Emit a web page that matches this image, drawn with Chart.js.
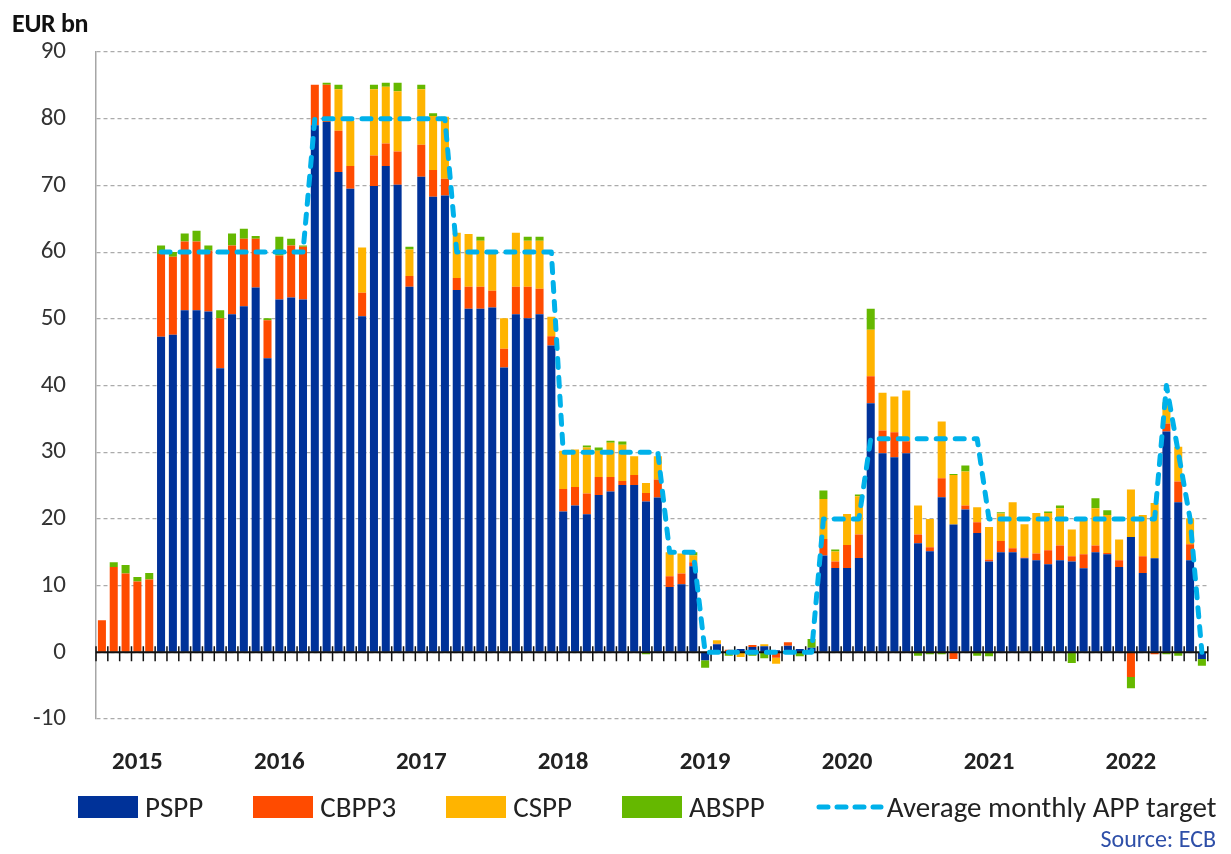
<!DOCTYPE html>
<html>
<head>
<meta charset="utf-8">
<script src="https://cdn.jsdelivr.net/npm/chart.js@4.4.1/dist/chart.umd.min.js"></script>
<style>
    body { margin: 0; background: #fff; font-family: Carlito, Lato, sans-serif; }
    #wrap { position: relative; width: 1231px; height: 854px; overflow: hidden; }
    #unit { position: absolute; left: 12px; top: 7px; font-weight: bold; font-size: 26px; color: #111; letter-spacing: -0.3px; }
    #legend { position: absolute; left: 78px; top: 789px; width: 1200px; display: flex; align-items: center; font-size: 29px; color: #222; white-space: nowrap; }
    .item { display: flex; align-items: center; margin-right: 50px; flex-shrink: 0; }
    .box { width: 60px; height: 22px; margin-right: 7px; }
    #source { position: absolute; right: 15px; top: 824px; font-size: 24px; color: #2e4fa8; }
</style>
</head>
<body>
<div id="wrap">
    <canvas id="chart"></canvas>
    <div id="unit">EUR bn</div>
    <div id="legend"></div>
    <div id="source">Source: ECB</div>
</div>
<script>
const months = [
    '2014-10','2014-11','2014-12',
    '2015-01','2015-02','2015-03','2015-04','2015-05','2015-06','2015-07','2015-08','2015-09','2015-10','2015-11','2015-12',
    '2016-01','2016-02','2016-03','2016-04','2016-05','2016-06','2016-07','2016-08','2016-09','2016-10','2016-11','2016-12',
    '2017-01','2017-02','2017-03','2017-04','2017-05','2017-06','2017-07','2017-08','2017-09','2017-10','2017-11','2017-12',
    '2018-01','2018-02','2018-03','2018-04','2018-05','2018-06','2018-07','2018-08','2018-09','2018-10','2018-11','2018-12',
    '2019-01','2019-02','2019-03','2019-04','2019-05','2019-06','2019-07','2019-08','2019-09','2019-10','2019-11','2019-12',
    '2020-01','2020-02','2020-03','2020-04','2020-05','2020-06','2020-07','2020-08','2020-09','2020-10','2020-11','2020-12',
    '2021-01','2021-02','2021-03','2021-04','2021-05','2021-06','2021-07','2021-08','2021-09','2021-10','2021-11','2021-12',
    '2022-01','2022-02','2022-03','2022-04','2022-05','2022-06','2022-07'
];

const pspp = [
    0, 0, 0,
    0, 0, 47.3, 47.6, 51.3, 51.3, 51.1, 42.6, 50.7, 51.9, 54.7, 44.1,
    52.9, 53.2, 52.9, 79.0, 79.5, 72.0, 69.5, 50.4, 69.9, 72.9, 70.1, 54.8,
    71.3, 68.3, 68.5, 54.3, 51.5, 51.5, 51.7, 42.7, 50.7, 50.1, 50.7, 46.0,
    21.1, 22.0, 20.7, 23.6, 24.1, 25.1, 25.1, 22.6, 23.2, 9.8, 10.2, 12.9,
    -1.2, 1.2, 0.1, 0.5, 0.8, 0.9, 0.3, 1.0, 0.5, 0.7, 14.5, 12.65,
    12.65, 14.15, 37.35, 29.85, 29.25, 29.85, 16.35, 15.15, 23.25, 19.15, 21.4, 17.9,
    13.6, 15.0, 15.0, 14.1, 13.8, 13.2, 13.8, 13.6, 12.6, 15.0, 14.7, 12.8,
    17.3, 11.9, 14.1, 33.1, 22.5, 13.8, -1.0
];
const cbpp3 = [
    4.8, 12.8, 11.8,
    10.6, 10.9, 12.4, 11.7, 10.3, 10.3, 9.1, 7.5, 10.3, 10.1, 7.3, 5.7,
    6.6, 7.8, 7.9, 6.1, 5.6, 6.2, 3.4, 3.5, 4.6, 3.4, 5.0, 1.6,
    4.8, 4.0, 2.5, 1.8, 3.3, 3.3, 2.5, 2.8, 4.1, 4.7, 3.8, 1.4,
    3.4, 2.8, 3.1, 2.7, 2.2, 0.6, 1.5, 1.3, 2.7, 1.6, 1.6, 0.6,
    0, 0.1, 0.3, 0, 0.3, 0, -0.8, 0.5, 0, 0, 2.5, 0.95,
    3.45, 3.5, 4.05, 3.4, 3.75, 1.8, 1.3, 0.6, 2.85, -1.0, 0.6, 1.6,
    0.3, 1.7, 0.6, 0.1, 1.0, 2.1, 2.2, 0.8, 2.1, 1.0, 0.2, 1.0,
    -3.7, 2.5, -0.3, 1.2, 3.1, 2.4, 0
];
const cspp = [
    0, 0, 0,
    0, 0, 0, 0, 0, 0, 0, 0, 0, 0, 0, 0,
    0, 0, 0, 0, 0, 6.2, 6.8, 6.8, 9.9, 8.5, 9.0, 4.0,
    8.3, 8.1, 9.3, 6.8, 7.9, 6.9, 5.7, 4.6, 8.1, 6.9, 7.2, 2.9,
    5.7, 5.6, 6.9, 3.9, 5.1, 5.4, 2.8, 1.5, 3.5, 3.6, 3.0, 1.0,
    0, 0.5, 0, -0.7, 0, 0.3, -0.9, 0, 0, 0, 6.0, 1.5,
    4.65, 5.75, 6.95, 5.65, 5.35, 7.6, 4.35, 4.25, 8.5, 7.45, 5.1, 2.25,
    4.9, 4.1, 6.9, 5.0, 6.1, 5.6, 5.6, 4.0, 5.2, 5.6, 5.7, 3.1,
    7.1, 6.2, 8.3, 3.2, 5.2, 3.9, 0
];
const abspp = [
    0, 0.7, 1.3,
    0.7, 1.0, 1.3, 0.7, 1.2, 1.6, 0.8, 1.2, 1.8, 1.5, 0.4, 0.3,
    2.8, 1.0, 0.2, 0, 0.3, 0.7, 0, 0, 0.7, 0.6, 1.3, 0.4,
    0.7, 0.4, 0, 0, 0, 0.6, 0, 0, 0, 0.6, 0.6, 0,
    0, 0, 0.3, 0.5, 0.3, 0.5, 0, -0.3, 0, 0, 0, 0.5,
    -1.1, 0, -0.5, 0, -0.5, -0.9, 0, 0, -0.6, 1.3, 1.25, 0.3,
    0, 0.25, 3.15, 0, 0, 0, -0.5, -0.3, -0.3, 0.15, 0.9, -0.5,
    -0.6, 0.2, 0, 0, 0, 0.2, 0.4, -1.6, 0, 1.5, 0.7, 0,
    -1.7, 0, 0, -0.3, -0.5, 0, -1.0
];
const target = [
    null, null, null,
    null, null, 60, 60, 60, 60, 60, 60, 60, 60, 60, 60,
    60, 60, 60, 80, 80, 80, 80, 80, 80, 80, 80, 80,
    80, 80, 80, 60, 60, 60, 60, 60, 60, 60, 60, 60,
    30, 30, 30, 30, 30, 30, 30, 30, 30, 15, 15, 15,
    0, 0, 0, 0, 0, 0, 0, 0, 0, 0, 20, 20,
    20, 20, 32, 32, 32, 32, 32, 32, 32, 32, 32, 32,
    20, 20, 20, 20, 20, 20, 20, 20, 20, 20, 20, 20,
    20, 20, 20, 40, 30, 20, 0
];

const seriesNames = ['PSPP', 'CBPP3', 'CSPP', 'ABSPP', 'Average monthly APP target'];
const seriesColors = ['#003299', '#ff4b00', '#ffb400', '#65b800', '#00b1ea'];
const yTicks = [-10, 0, 10, 20, 30, 40, 50, 60, 70, 80, 90];

Chart.defaults.font.family = 'Carlito, Lato, sans-serif';

// solid zero line with monthly tick marks, drawn over the bars but under the target line
const zeroAxis = {
    id: 'zeroAxis',
    afterDatasetDraw(chart, args) {
        if (args.index !== 0) return;
        const { ctx, chartArea, scales: { x, y } } = chart;
        const y0 = y.getPixelForValue(0);
        const half = (x.getPixelForValue(1) - x.getPixelForValue(0)) / 2;
        ctx.save();
        ctx.strokeStyle = '#111';
        ctx.lineWidth = 2;
        ctx.beginPath();
        ctx.moveTo(chartArea.left, y0);
        ctx.lineTo(chartArea.right, y0);
        ctx.stroke();
        ctx.lineWidth = 1.5;
        ctx.beginPath();
        for (let i = 0; i <= months.length; i++) {
            const xb = x.getPixelForValue(i) - half;
            ctx.moveTo(xb, y0 - 6);
            ctx.lineTo(xb, y0 + 9);
        }
        ctx.stroke();
        ctx.restore();
    }
};

const barSets = [pspp, cbpp3, cspp, abspp].map((data, i) => ({
    type: 'bar',
    label: seriesNames[i],
    data: data,
    backgroundColor: seriesColors[i],
    borderWidth: 0,
    barPercentage: 0.68,
    categoryPercentage: 1.0,
    order: 1
}));

const lineSet = {
    type: 'line',
    label: seriesNames[4],
    data: target,
    borderColor: seriesColors[4],
    borderWidth: 5,
    borderDash: [9, 10],
    borderCapStyle: 'round',
    borderJoinStyle: 'round',
    pointRadius: 0,
    tension: 0,
    fill: false,
    order: 0
};

new Chart(document.getElementById('chart'), {
    data: { labels: months, datasets: [...barSets, lineSet] },
    options: {
        responsive: true,
        maintainAspectRatio: false,
        animation: false,
        layout: { padding: { top: 52, right: 18, bottom: 79, left: 0 } },
        plugins: {
            legend: { display: false },
            tooltip: { enabled: false }
        },
        scales: {
            x: {
                stacked: true,
                grid: { display: false, drawTicks: false },
                border: { display: false },
                ticks: {
                    autoSkip: false,
                    maxRotation: 0,
                    padding: 29,
                    color: '#222',
                    font: { size: 25, weight: 'bold' },
                    callback: (v, i) => months[i].endsWith('-01') ? months[i].slice(0, 4) : ''
                },
                afterFit: s => { s.height = 56; }
            },
            y: {
                stacked: true,
                min: -10,
                max: 90,
                afterBuildTicks: s => { s.ticks = yTicks.map(v => ({ value: v })); },
                grid: { color: '#ababab', lineWidth: 1.2, drawTicks: false },
                border: { display: true, color: '#a6a6a6', width: 1.5, dash: [4, 3] },
                ticks: { padding: 30, color: '#333', font: { size: 25 } },
                afterFit: s => { s.width = 96; }
            }
        }
    },
    plugins: [zeroAxis]
});

// html legend
const legend = document.getElementById('legend');
seriesNames.forEach((name, i) => {
    const item = document.createElement('div');
    item.className = 'item';
    if (i < 4) {
        item.innerHTML = `<div class="box" style="background:${seriesColors[i]}"></div><span>${name}</span>`;
    } else {
        item.innerHTML = `<svg width="70" height="22" style="margin-right:2px"><line x1="4" y1="11" x2="66" y2="11" stroke="${seriesColors[i]}" stroke-width="5" stroke-linecap="round" stroke-dasharray="9 9"/></svg><span>${name}</span>`;
    }
    legend.appendChild(item);
});
</script>
</body>
</html>
